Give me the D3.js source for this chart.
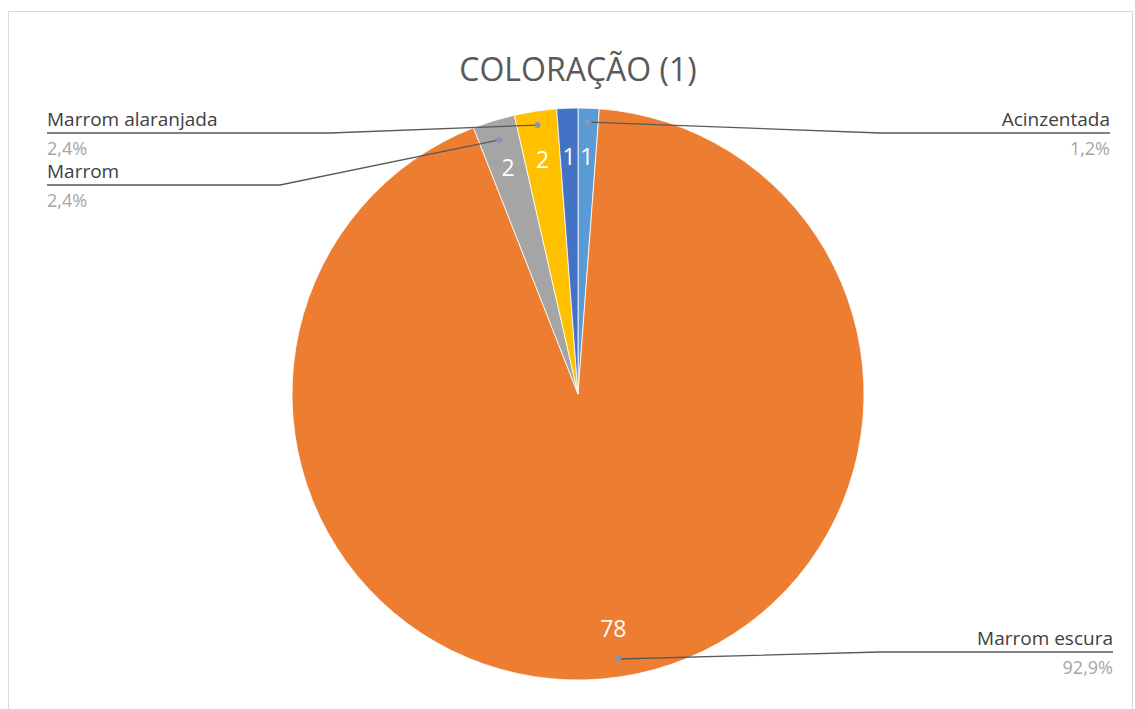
<!DOCTYPE html>
<html>
<head>
<meta charset="utf-8">
<script src="https://cdn.jsdelivr.net/npm/d3@7"></script>
<style>
  body { margin: 0; background: #fff; }
  text { font-family: "Open Sans", "Noto Sans", sans-serif; }
</style>
</head>
<body>
<div id="chart"></div>
<script>
// slices in clockwise order from 12 o'clock
var categories = ["Acinzentada", "Marrom escura", "Marrom", "Marrom alaranjada", ""];
var values = [1, 78, 2, 2, 1];
var colors = ["#5B9BD5", "#ED7D31", "#A5A5A5", "#FFC000", "#4472C4"];
var title = "COLORAÇÃO (1)";

var width = 1135, height = 709;
var cx = 578, cy = 394, radius = 286;

var svg = d3.select("#chart").append("svg")
    .attr("width", width)
    .attr("height", height);

// chart frame
svg.append("rect")
    .attr("x", 8.5).attr("y", 11.5)
    .attr("width", 1124).attr("height", 710)
    .attr("fill", "#fff")
    .attr("stroke", "#d9d9d9");

svg.append("text")
    .attr("x", cx).attr("y", 81)
    .attr("text-anchor", "middle")
    .attr("font-size", 32)
    .attr("fill", "#595959")
    .text(title);

var total = d3.sum(values);
var data = values.map(function(v, i) {
    return {name: categories[i], value: v, color: colors[i]};
});

var pie = d3.pie().sort(null).value(function(d) { return d.value; });
var arcs = pie(data);

var arc = d3.arc().innerRadius(0).outerRadius(radius);
var labelArc = d3.arc().innerRadius(237).outerRadius(237);

var g = svg.append("g").attr("transform", "translate(" + cx + "," + cy + ")");

g.selectAll("path.slice")
    .data(arcs)
    .enter().append("path")
    .attr("class", "slice")
    .attr("d", arc)
    .attr("fill", function(d) { return d.data.color; })
    .attr("stroke", "#fff")
    .attr("stroke-width", 0.8);

// value labels inside
g.selectAll("text.val")
    .data(arcs)
    .enter().append("text")
    .attr("class", "val")
    .attr("transform", function(d) { return "translate(" + labelArc.centroid(d) + ")"; })
    .attr("text-anchor", "middle")
    .attr("dy", "0.36em")
    .attr("font-size", 23)
    .attr("fill", "#fff")
    .text(function(d) { return d.data.value; });

// callouts: where the label sits and where the leader bends
var callouts = {
    "Acinzentada":       {side: "right", x: 1110, lineY: 133, bendX: 880, dotR: 272},
    "Marrom escura":     {side: "right", x: 1113, lineY: 652, bendX: 880, dotR: 268},
    "Marrom":            {side: "left",  x: 47,   lineY: 185, bendX: 280, dotR: 266},
    "Marrom alaranjada": {side: "left",  x: 47,   lineY: 133, bendX: 330, dotR: 272}
};

var fmt = function(v) { return (v / total * 100).toFixed(1).replace(".", ",") + "%"; };

arcs.forEach(function(d) {
    var c = callouts[d.data.name];
    if (!c) return;
    var mid = (d.startAngle + d.endAngle) / 2;
    var px = cx + Math.sin(mid) * c.dotR;
    var py = cy - Math.cos(mid) * c.dotR;

    svg.append("polyline")
        .attr("points", [[px, py], [c.bendX, c.lineY], [c.x, c.lineY]].map(function(p) { return p.join(","); }).join(" "))
        .attr("fill", "none")
        .attr("stroke", "#595959")
        .attr("stroke-width", 1.3);

    svg.append("circle")
        .attr("cx", px).attr("cy", py).attr("r", 3)
        .attr("fill", "#8497b0");

    var anchor = c.side === "right" ? "end" : "start";
    svg.append("text")
        .attr("x", c.x).attr("y", c.lineY - 7)
        .attr("text-anchor", anchor)
        .attr("font-size", 19)
        .attr("fill", "#404040")
        .text(d.data.name);
    svg.append("text")
        .attr("x", c.x).attr("y", c.lineY + 22)
        .attr("text-anchor", anchor)
        .attr("font-size", 18)
        .attr("fill", "#a6a6a6")
        .text(fmt(d.data.value));
});
</script>
</body>
</html>
